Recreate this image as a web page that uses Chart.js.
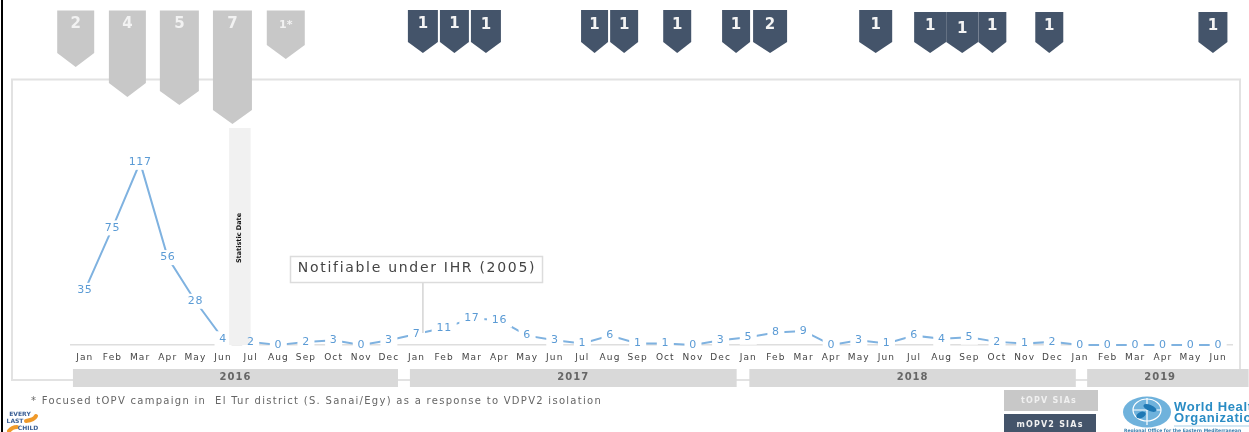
<!DOCTYPE html>
<html><head><meta charset="utf-8">
<style>html,body{margin:0;padding:0;background:#fff;overflow:hidden}canvas{display:block;filter:blur(0.6px)}</style>
<script src="https://cdn.jsdelivr.net/npm/chart.js@4"></script></head>
<body><canvas id="c" width="1249" height="432"></canvas>
<script>
const months = ['Jan','Feb','Mar','Apr','May','Jun','Jul','Aug','Sep','Oct','Nov','Dec',
 'Jan','Feb','Mar','Apr','May','Jun','Jul','Aug','Sep','Oct','Nov','Dec',
 'Jan','Feb','Mar','Apr','May','Jun','Jul','Aug','Sep','Oct','Nov','Dec',
 'Jan','Feb','Mar','Apr','May','Jun'];
const cases = [35,75,117,56,28,4,2,0,2,3,0,3,
 7,11,17,16,6,3,1,6,1,1,0,3,
 5,8,9,0,3,1,6,4,5,2,1,2,
 0,0,0,0,0,0];
const years = ['2016','2017','2018','2019'];
const yearStart = [-0.43,11.76,24.04,36.26];
const yearEnd = [11.33,23.58,35.85,42.1];
const topvLabels = ['2','4','5','7','1*'];
const topvMonth = [-0.33,1.54,3.42,5.34,7.27];
const mopvLabels = ['1','1','1','1','1','1','1','2','1','1','1','1','1','1'];
const mopvMonth = [12.23,13.37,14.51,18.44,19.51,21.43,23.56,24.79,28.61,30.58,31.74,32.83,34.89,40.81];

// drawing geometry of the pennants
const topvTip = [67,97,105,124,59];
const topvWidth = [37,37,39,39,38];
const mopvWidth = [30,29,30,27,28,28,28,34,33,32,32,28,28,29];
const mopvTop = [10,10,10,10,10,10,10,10,10,12,12,12,12,12];
const mopvTextY = [24,24,25,25,25,25,25,25,25,26,29,26,26,26];

function pennant(ctx,cx,w,top,tip,fill,drop){
  const l=cx-w/2,r=cx+w/2;
  ctx.fillStyle=fill;
  ctx.beginPath();ctx.moveTo(l,top);ctx.lineTo(r,top);ctx.lineTo(r,tip-drop);ctx.lineTo(cx,tip);ctx.lineTo(l,tip-drop);ctx.closePath();ctx.fill();
}
function txt(ctx,s,x,y,font,color,align,spacing){
  ctx.font=font;ctx.fillStyle=color;ctx.textAlign=align||'center';ctx.textBaseline='middle';
  ctx.letterSpacing=(spacing||0)+'px';ctx.fillText(s,x,y);ctx.letterSpacing='0px';
}
const FONT='"DejaVu Sans"';
const backdrop={id:'backdrop',
 beforeDraw(ch){ch.ctx.letterSpacing='1.1px';},
 beforeDatasetsDraw(ch){
  const ctx=ch.ctx;ctx.letterSpacing='0px';ctx.save();
  ctx.strokeStyle='#e2e2e2';ctx.lineWidth=2;ctx.strokeRect(12,79.5,1228,300.5);
  ctx.fillStyle='#000';ctx.fillRect(1,0,2,432);
  ctx.restore();
}};
const overlay={id:'overlay',afterDatasetsDraw(ch){
  const ctx=ch.ctx,x=ch.scales.x,y=ch.scales.y;ctx.save();
  // value label backings
  ctx.font='11px '+FONT;
  cases.forEach((v,i)=>{
    const px=x.getPixelForValue(i),py=y.getPixelForValue(v),w=ctx.measureText(String(v)).width+(String(v).length-1);
    ctx.fillStyle='#fff';ctx.fillRect(px-w/2-5,py-7.5,w+10,15);
  });
  // statistic date band
  ctx.fillStyle='#f1f1f1';ctx.fillRect(x.getPixelForValue(5.22),128,21.5,217);
  ctx.save();ctx.translate(x.getPixelForValue(5.6),238);ctx.rotate(-Math.PI/2);
  txt(ctx,'Statistic Date',0,0,'bold 6.5px '+FONT,'#111');ctx.restore();
  // value labels
  cases.forEach((v,i)=>txt(ctx,String(v),x.getPixelForValue(i),y.getPixelForValue(v),'11px '+FONT,'#5b9bd5','center',0.6));
  // callout
  const cx=x.getPixelForValue(12.23);
  ctx.strokeStyle='#d4d4d4';ctx.lineWidth=1.5;ctx.beginPath();ctx.moveTo(cx,283);ctx.lineTo(cx,333);ctx.stroke();
  ctx.fillStyle='#fff';ctx.fillRect(290,256,253,27);
  ctx.strokeStyle='#dcdcdc';ctx.lineWidth=1.5;ctx.strokeRect(290.5,256.5,252,26);
  txt(ctx,'Notifiable under IHR (2005)',417,268,'14px '+FONT,'#444','center',1.7);
  // year bands
  years.forEach((yr,i)=>{
    const a=x.getPixelForValue(yearStart[i]),b=x.getPixelForValue(yearEnd[i]);
    ctx.fillStyle='#d9d9d9';ctx.fillRect(a,369,b-a,18);
    const mid=i===3?x.getPixelForValue(38.9):(a+b)/2;
    txt(ctx,yr,mid,377,'bold 10px '+FONT,'#666','center',1);
  });
  // pennants
  topvMonth.forEach((m,i)=>{
    const c=x.getPixelForValue(m);
    pennant(ctx,c,topvWidth[i],10.5,topvTip[i],'#c8c8c8',14);
    txt(ctx,topvLabels[i],c,i===4?25:24,(i===4?'bold 11px ':'bold 15px ')+FONT,'#f2f2f2');
  });
  mopvMonth.forEach((m,i)=>{
    const c=x.getPixelForValue(m);
    pennant(ctx,c,mopvWidth[i],mopvTop[i],53,'#44546a',11);
    txt(ctx,mopvLabels[i],c,mopvTextY[i],'bold 15px '+FONT,'#f4f4f4');
  });
  // footnote
  txt(ctx,'* Focused tOPV campaign in  El Tur district (S. Sanai/Egy) as a response to VDPV2 isolation',31,401,'10px '+FONT,'#666','left',1.28);
  // legend
  ctx.fillStyle='#c8c8c8';ctx.fillRect(1004,390,94,21);
  txt(ctx,'tOPV SIAs',1049,400.5,'bold 8px '+FONT,'#f0f0f0','center',1.2);
  ctx.fillStyle='#44546a';ctx.fillRect(1004,414,92,18);
  txt(ctx,'mOPV2 SIAs',1050,425,'bold 8px '+FONT,'#f0f0f0','center',1.2);
  // WHO mark
  ctx.fillStyle='#6fb2dc';ctx.beginPath();ctx.ellipse(1147,412,24,15.5,0,0,Math.PI*2);ctx.fill();
  ctx.strokeStyle='#fff';ctx.lineWidth=1.2;
  ctx.beginPath();ctx.ellipse(1147,410,14,11,0,0,Math.PI*2);ctx.stroke();
  ctx.beginPath();ctx.moveTo(1147,398);ctx.lineTo(1147,425);ctx.moveTo(1133,410);ctx.lineTo(1161,410);ctx.stroke();
  ctx.fillStyle='#1f78b4';ctx.beginPath();ctx.ellipse(1150,408,7,3,0.4,0,Math.PI*2);ctx.fill();
  ctx.beginPath();ctx.ellipse(1141,415,5,3,-0.4,0,Math.PI*2);ctx.fill();
  txt(ctx,'World Health',1174,407,'bold 13px "Liberation Sans"','#2a8cc4','left',0.6);
  txt(ctx,'Organization',1174,418,'bold 13px "Liberation Sans"','#2a8cc4','left',0.6);
  ctx.strokeStyle='#a5cfe8';ctx.lineWidth=1;ctx.beginPath();ctx.moveTo(1174,426);ctx.lineTo(1249,426);ctx.stroke();
  txt(ctx,'Regional Office for the Eastern Mediterranean',1124,431,'bold 4.5px '+FONT,'#3a7fae','left');
  // Every Last Child mark
  ctx.strokeStyle='#f09a2a';ctx.lineWidth=4;ctx.lineCap='round';
  ctx.beginPath();ctx.moveTo(26,421);ctx.quadraticCurveTo(34,420,36,416);ctx.stroke();
  ctx.beginPath();ctx.moveTo(9,431);ctx.quadraticCurveTo(12,427,17,427);ctx.stroke();
  txt(ctx,'EVERY',20,414,'bold 6px '+FONT,'#3b5f95');
  txt(ctx,'LAST',15,421,'bold 6px '+FONT,'#3b5f95');
  txt(ctx,'CHILD',28,428,'bold 6px '+FONT,'#3b5f95');
  ctx.restore();
}};
new Chart(document.getElementById('c'),{
  type:'line',
  data:{labels:months,datasets:[{data:cases,borderColor:'#7fb2e0',borderWidth:2,pointRadius:0,tension:0,clip:false}]},
  options:{
    responsive:false,animation:false,
    layout:{padding:{left:71,right:17,top:0,bottom:0}},
    plugins:{legend:{display:false},tooltip:{enabled:false},title:{display:false}},
    scales:{
      x:{offset:true,grid:{display:false,drawTicks:false},border:{color:'#dedede',width:1.5},
        afterFit(s){s.height=87;},
        ticks:{autoSkip:false,maxRotation:0,minRotation:0,padding:7,color:'#444',font:{family:'"DejaVu Sans"',size:9}}},
      y:{display:false,min:0,max:221}
    }
  },
  plugins:[backdrop,overlay]
});
</script></body></html>
